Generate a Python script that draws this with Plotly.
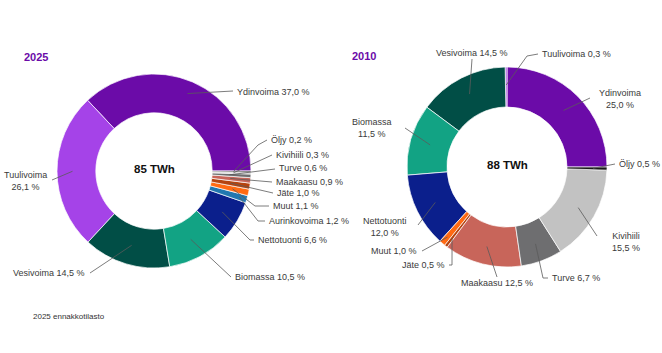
import math
import plotly.graph_objects as go

W, H = 662, 353

# ---------------- data ----------------
labels_2025 = ["Ydinvoima", "Tuulivoima", "Vesivoima", "Biomassa", "Nettotuonti",
               "Aurinkovoima", "Muut", "Jäte", "Maakaasu", "Turve", "Kivihiili", "Öljy"]
values_2025 = [37.0, 26.1, 14.5, 10.5, 6.6, 1.2, 1.1, 1.0, 0.9, 0.6, 0.3, 0.2]
total_2025 = 85

labels_2010 = ["Ydinvoima", "Tuulivoima", "Vesivoima", "Biomassa", "Nettotuonti",
               "Muut", "Jäte", "Maakaasu", "Turve", "Kivihiili", "Öljy"]
values_2010 = [25.0, 0.3, 14.5, 11.5, 12.0, 1.0, 0.5, 12.5, 6.7, 15.5, 0.5]
total_2010 = 88

footnote = "2025 ennakkotilasto"

# ---------------- styles ----------------
colors = {
    "Ydinvoima": "#6B0BA8",
    "Tuulivoima": "#A543E8",
    "Vesivoima": "#014E46",
    "Biomassa": "#12A384",
    "Nettotuonti": "#0B1F8C",
    "Aurinkovoima": "#2177B0",
    "Muut": "#FF6A13",
    "Jäte": "#B5430F",
    "Maakaasu": "#C8655A",
    "Turve": "#6E6E70",
    "Kivihiili": "#C2C2C2",
    "Öljy": "#1A1A1A",
}
TITLE_COLOR = "#6B0BA8"
TEXT_COLOR = "#3A3A3A"
LINE_COLOR = "#5A5A5A"
FONT = "Liberation Sans, Arial, sans-serif"

# label placement (pixel layout): text pos, anchor, line points near label, start radius fraction, line break
place_2025 = {
    "Ydinvoima":    dict(x=235, y=92,  a="left",   pts=[(233, 91)], f=0.87, br=False),
    "Tuulivoima":   dict(x=25,  y=181, a="center", pts=[(52, 180)], f=0.84, br=True),
    "Vesivoima":    dict(x=87,  y=273, a="right",  pts=[(90, 273)], f=0.80, br=False),
    "Biomassa":     dict(x=233, y=277, a="left",   pts=[(231, 277)], f=0.80, br=False),
    "Nettotuonti":  dict(x=256, y=240, a="left",   pts=[(250, 240), (254, 240)], f=0.82, br=False),
    "Aurinkovoima": dict(x=267, y=221, a="left",   pts=[(258, 221), (265, 221)], f=0.92, br=False),
    "Muut":         dict(x=271, y=206, a="left",   pts=[(255, 206), (269, 206)], f=0.83, br=False),
    "Jäte":         dict(x=275, y=193, a="left",   pts=[(273, 193)], f=0.80, br=False),
    "Maakaasu":     dict(x=274, y=182, a="left",   pts=[(272, 182)], f=0.79, br=False),
    "Turve":        dict(x=277, y=168, a="left",   pts=[(275, 169)], f=0.78, br=False),
    "Kivihiili":    dict(x=274, y=155, a="left",   pts=[(272, 155)], f=0.82, br=False),
    "Öljy":         dict(x=269, y=140, a="left",   pts=[(258, 145), (267, 140)], f=0.82, br=False),
}
place_2010 = {
    "Ydinvoima":   dict(x=620, y=99,  a="center", pts=[(590, 98)], f=0.80, br=True),
    "Tuulivoima":  dict(x=540, y=54,  a="left",   pts=[(527, 56), (538, 54)], f=0.82, br=False),
    "Vesivoima":   dict(x=472, y=53,  a="center", pts=[(472, 59)], f=0.82, br=False),
    "Biomassa":    dict(x=372, y=128, a="center", pts=[(405, 128)], f=0.80, br=True),
    "Nettotuonti": dict(x=385, y=227, a="center", pts=[(418, 225)], f=0.80, br=True),
    "Muut":        dict(x=419, y=251, a="right",  pts=[(422, 251)], f=0.92, br=False),
    "Jäte":        dict(x=447, y=265, a="right",  pts=[(452, 265), (449, 265)], f=0.90, br=False),
    "Maakaasu":    dict(x=497, y=283, a="center", pts=[(497, 277)], f=0.82, br=False),
    "Turve":       dict(x=550, y=278, a="left",   pts=[(543, 278), (548, 278)], f=0.82, br=False),
    "Kivihiili":   dict(x=626, y=242, a="center", pts=[(597, 236)], f=0.82, br=True),
    "Öljy":        dict(x=617, y=164, a="left",   pts=[(615, 164)], f=0.86, br=False),
}

charts = [
    dict(year="2025", labels=labels_2025, values=values_2025, total=total_2025,
         cx=154, cy=171, r=97, title=(22, 57), place=place_2025),
    dict(year="2010", labels=labels_2010, values=values_2010, total=total_2010,
         cx=507, cy=167, r=100, title=(350, 56), place=place_2010),
]


def fmt(v):
    return f"{v:.1f}".replace(".", ",") + " %"


fig = go.Figure()
shapes = []
annotations = []

for ch in charts:
    cx, cy, r = ch["cx"], ch["cy"], ch["r"]
    tot = sum(ch["values"])
    # plotly's counterclockwise mode places the first slice clockwise of `rotation`;
    # shift so that the first slice starts at 3 o'clock and runs counterclockwise.
    rot = 90 - 360 * ch["values"][0] / tot
    fig.add_trace(go.Pie(
        labels=ch["labels"], values=ch["values"],
        marker=dict(colors=[colors[l] for l in ch["labels"]],
                    line=dict(color="white", width=0.7)),
        hole=0.6, sort=False, direction="counterclockwise", rotation=rot,
        textinfo="none", hoverinfo="label+percent", showlegend=False,
        domain=dict(x=[(cx - r) / W, (cx + r) / W],
                    y=[(H - cy - r) / H, (H - cy + r) / H]),
    ))
    cum = 0.0
    for lab, val in zip(ch["labels"], ch["values"]):
        mid = (cum + val / 2) / tot
        cum += val
        p = ch["place"][lab]
        th = 2 * math.pi * mid
        sx = cx + p["f"] * r * math.cos(th)
        sy = cy - p["f"] * r * math.sin(th)
        path = f"M {sx:.2f},{sy:.2f}" + "".join(f" L {x},{y}" for x, y in p["pts"])
        shapes.append(dict(type="path", path=path, xref="x", yref="y",
                           line=dict(color=LINE_COLOR, width=0.8), layer="above"))
        txt = f"{lab}<br>{fmt(val)}" if p["br"] else f"{lab} {fmt(val)}"
        annotations.append(dict(x=p["x"], y=p["y"], xref="x", yref="y", text=txt,
                                showarrow=False, xanchor=p["a"], yanchor="middle",
                                align="center",
                                font=dict(family=FONT, size=9, color=TEXT_COLOR)))
    # centre total
    annotations.append(dict(x=cx, y=cy - 2, xref="x", yref="y",
                            text=f"<b>{ch['total']} TWh</b>", showarrow=False,
                            xanchor="center", yanchor="middle",
                            font=dict(family=FONT, size=11.5, color="#111111")))
    # title
    annotations.append(dict(x=ch["title"][0], y=ch["title"][1], xref="x", yref="y",
                            text=f"<b>{ch['year']}</b>", showarrow=False,
                            xanchor="left", yanchor="middle",
                            font=dict(family=FONT, size=11, color=TITLE_COLOR)))

annotations.append(dict(x=31, y=316, xref="x", yref="y", text=footnote, showarrow=False,
                        xanchor="left", yanchor="middle",
                        font=dict(family=FONT, size=8, color="#333333")))

fig.update_layout(
    width=W, height=H, margin=dict(l=0, r=0, t=0, b=0),
    paper_bgcolor="white", plot_bgcolor="white",
    xaxis=dict(range=[0, W], visible=False, domain=[0, 1], fixedrange=True),
    yaxis=dict(range=[H, 0], visible=False, domain=[0, 1], fixedrange=True),
    shapes=shapes, annotations=annotations,
)

fig.write_html("out.html")
